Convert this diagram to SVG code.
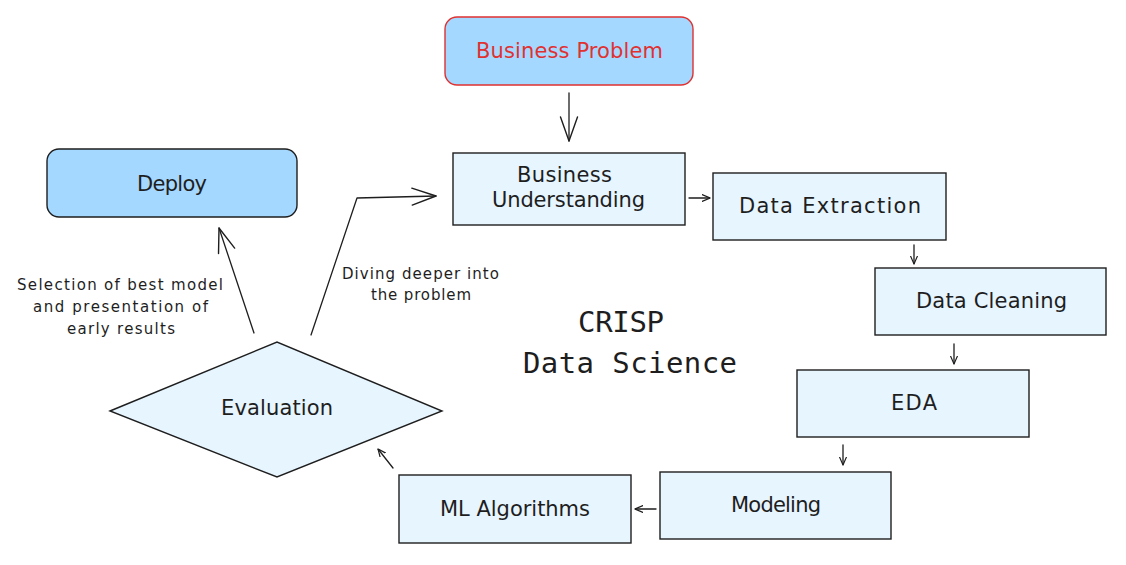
<svg xmlns="http://www.w3.org/2000/svg" width="1126" height="565" viewBox="0 0 1126 565">
<style>
  .box { fill: #e7f5ff; stroke: #1e1e1e; stroke-width: 1.4; }
  .hl { fill: #a5d8ff; stroke: #1e1e1e; stroke-width: 1.4; }
  .red { fill: #a5d8ff; stroke: #e03131; stroke-width: 1.4; }
  .t { font-family: "DejaVu Sans", "Liberation Sans", sans-serif; font-size: 21px; fill: #1e1e1e; }
  .s { font-family: "DejaVu Sans", "Liberation Sans", sans-serif; font-size: 15px; fill: #1e1e1e; }
  .m { font-family: "DejaVu Sans Mono", "Liberation Mono", monospace; font-size: 29px; fill: #1e1e1e; }
  .c { fill: none; stroke: #1e1e1e; stroke-width: 1.3; stroke-linecap: round; stroke-linejoin: round; }
</style>
<defs>
  <marker id="sm" markerUnits="userSpaceOnUse" viewBox="0 0 8 8" markerWidth="8" markerHeight="8" refX="8" refY="4" orient="auto">
    <path d="M0,0.5 L8,4 L0,7.5" fill="none" stroke="#1e1e1e" stroke-width="1.2" stroke-linecap="round"/>
  </marker>
  <marker id="lg" markerUnits="userSpaceOnUse" viewBox="0 0 26 20" markerWidth="26" markerHeight="20" refX="25" refY="10" orient="auto">
    <path d="M1,1.5 L25,10 L1,18.5" fill="none" stroke="#1e1e1e" stroke-width="1.4" stroke-linecap="round" stroke-linejoin="round"/>
  </marker>
</defs>
<rect width="1126" height="565" fill="#ffffff"/>

<g id="connectors">
  <path class="c" d="M569,93 L569,141" marker-end="url(#lg)"/>
  <path class="c" d="M689,198 L710,198" marker-end="url(#sm)"/>
  <path class="c" d="M914,245 L914,264" marker-end="url(#sm)"/>
  <path class="c" d="M954,344 L954,364" marker-end="url(#sm)"/>
  <path class="c" d="M843,445 L843,465" marker-end="url(#sm)"/>
  <path class="c" d="M656,509 L635,509" marker-end="url(#sm)"/>
  <path class="c" d="M393,468 L378,449" marker-end="url(#sm)"/>
  <path class="c" d="M254,333 L219,228" marker-end="url(#lg)"/>
  <path class="c" d="M311,335 L357,198 L436,196" marker-end="url(#lg)"/>
</g>

<g id="node-business-problem">
  <rect class="red" x="445" y="17" width="248" height="68" rx="12"/>
  <text class="t" x="476" y="58" font-size="22" textLength="187" style="fill:#e03131">Business Problem</text>
</g>

<g id="node-business-understanding">
  <rect class="box" x="453" y="153" width="232" height="72"/>
  <text class="t" x="517" y="182" textLength="95">Business</text>
  <text class="t" x="492" y="207" textLength="153">Understanding</text>
</g>

<g id="node-data-extraction">
  <rect class="box" x="713" y="173" width="233" height="67"/>
  <text class="t" x="739" y="213" textLength="182">Data Extraction</text>
</g>

<g id="node-data-cleaning">
  <rect class="box" x="875" y="268" width="231" height="67"/>
  <text class="t" x="916" y="308" textLength="151">Data Cleaning</text>
</g>

<g id="node-eda">
  <rect class="box" x="797" y="370" width="232" height="67"/>
  <text class="t" x="891" y="410" textLength="46">EDA</text>
</g>

<g id="node-modeling">
  <rect class="box" x="660" y="472" width="231" height="67"/>
  <text class="t" x="731" y="512" textLength="90">Modeling</text>
</g>

<g id="node-ml-algorithms">
  <rect class="box" x="399" y="475" width="232" height="68"/>
  <text class="t" x="440" y="516" textLength="150">ML Algorithms</text>
</g>

<g id="node-evaluation">
  <path class="box" d="M110,411 L277,342 L442,411 L277,477 Z"/>
  <text class="t" x="221" y="415" textLength="112">Evaluation</text>
</g>

<g id="node-deploy">
  <rect class="hl" x="47" y="149" width="250" height="68" rx="12"/>
  <text class="t" x="137" y="191" textLength="70">Deploy</text>
</g>

<g id="label-selection">
  <text class="s" x="17" y="290" textLength="206">Selection of best model</text>
  <text class="s" x="33" y="312" textLength="175">and presentation of</text>
  <text class="s" x="67" y="334" textLength="108">early results</text>
</g>

<g id="label-diving">
  <text class="s" x="342" y="279" textLength="157">Diving deeper into</text>
  <text class="s" x="371" y="300" textLength="100">the problem</text>
</g>

<g id="title">
  <text class="m" x="578" y="332" textLength="86">CRISP</text>
  <text class="m" x="523" y="373" textLength="214">Data Science</text>
</g>
</svg>
